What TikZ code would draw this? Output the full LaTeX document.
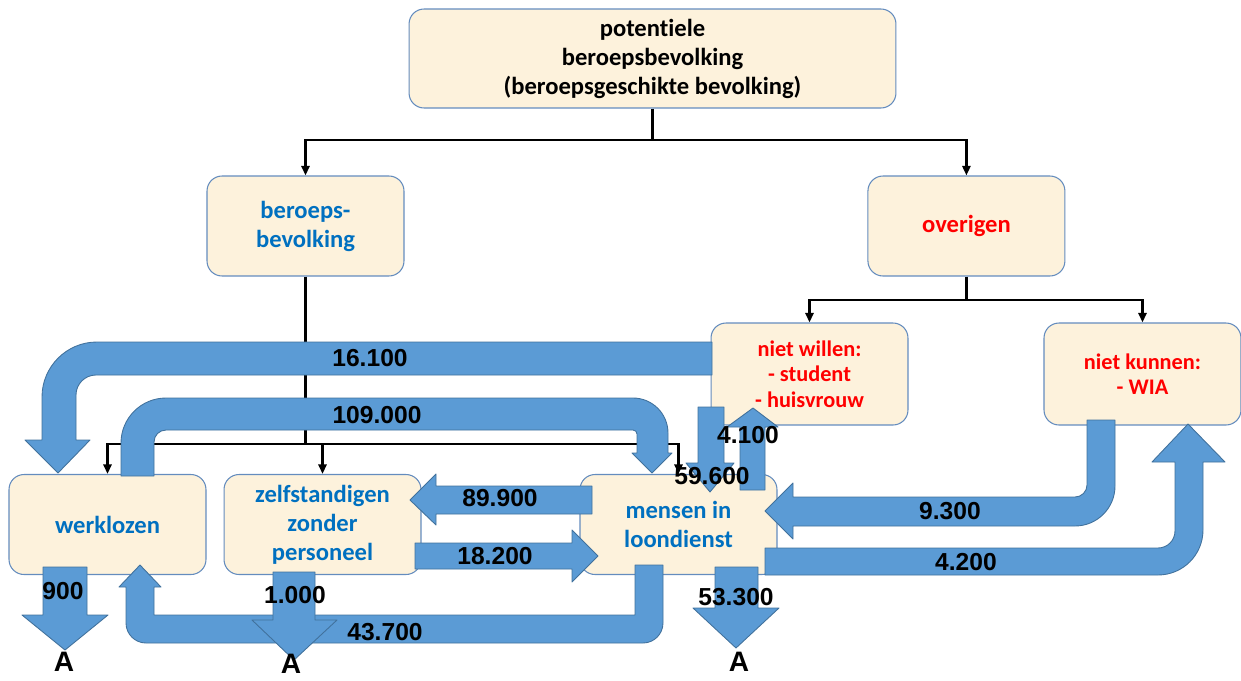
\documentclass[tikz,border=0pt]{standalone}
\usepackage{fontspec}
\setmainfont{Carlito}[Ligatures=NoCommon]
\newfontfamily\numfont{Liberation Sans}
\usetikzlibrary{positioning,arrows.meta}

\definecolor{boxfill}{RGB}{253,242,220}
\definecolor{boxline}{RGB}{100,140,190}
\definecolor{flowfill}{RGB}{91,155,213}
\definecolor{flowline}{RGB}{65,113,156}
\definecolor{txtblue}{RGB}{0,112,192}
\definecolor{txtred}{RGB}{255,0,0}

\begin{document}
\begin{tikzpicture}[x=0.02cm, y=-0.02cm,
    box/.style = {draw=boxline, fill=boxfill, rounded corners=0.3cm, line width=0.6pt,
                  align=center, inner sep=0pt, minimum width=3.94cm, minimum height=2cm,
                  font=\bfseries\fontsize{14}{16.5}\selectfont},
    small/.style = {font=\bfseries\fontsize{12.7}{14.5}\selectfont},
    conn/.style = {line width=1.4pt, -{Triangle[length=1.9mm,width=1.6mm]}},
    flow/.style = {draw=flowline, fill=flowfill, line width=0.5pt, line join=round},
    num/.style = {inner sep=0pt, font=\numfont\bfseries\fontsize{14}{16}\selectfont},
    uit/.style = {inner sep=0pt, font=\numfont\bfseries\fontsize{16}{18}\selectfont}]
  \useasboundingbox (0,0) rectangle (1241,680);

  % boxes
  \node[box, minimum width=9.74cm, minimum height=1.98cm] (top) at (652.5,58.5)
    {potentiele\\beroepsbevolking\\(beroepsgeschikte bevolking)};
  \node[box, text=txtblue] (berb) at (305.5,226) {beroeps-\\bevolking};
  \node[box, text=txtred, right=9.26cm of berb] (over) {overigen};
  \node[box, small, text=txtred, minimum height=2.04cm] (nwil) at (809.5,374)
    {niet willen:\\- student\\- huisvrouw};
  \node[box, small, text=txtred, minimum height=2.04cm, right=2.7cm of nwil] (nkun)
    {niet kunnen:\\- WIA};
  \node[box, text=txtblue] (werk) at (107.5,524.5) {werklozen};
  \node[box, text=txtblue, right=0.34cm of werk] (zzp) {zelfstandigen\\zonder\\personeel};
  \node[box, text=txtblue] (mens) at (678.5,524.5) {mensen in\\loondienst};

  % tree lines
  \coordinate (j1) at (top.south |- 0,140);
  \coordinate (j2) at (berb.south |- 0,444);
  \coordinate (j3) at (over.south |- 0,300);
  \draw[conn] (top.south) -- (j1) -| (berb.north);
  \draw[conn] (j1) -| (over.north);
  \draw[conn] (berb.south) -- (j2) -| (werk.north);
  \draw[conn] (j2) -| (zzp.north);
  \draw[conn] (j2) -| (mens.north);
  \draw[conn] (over.south) -- (j3) -| (nwil.north);
  \draw[conn] (j3) -| (nkun.north);

  % flows
  \draw[flow] (712,342) -- (97,342) arc[start angle=270, end angle=180, radius=55]
    -- (42,440) -- (25,440) -- (58,473) -- (90,440) -- (76,440) -- (76,395)
    arc[start angle=180, end angle=270, radius=20] -- (712,375) -- cycle;
  \draw[flow] (121,476) -- (121,443) arc[start angle=180, end angle=270, radius=45]
    -- (633,398) arc[start angle=270, end angle=360, radius=35]
    -- (668,453) -- (672,453) -- (652,473) -- (632,453) -- (637,453) -- (637,434)
    arc[start angle=0, end angle=-90, radius=4] -- (166,430)
    arc[start angle=270, end angle=180, radius=12] -- (154,476) -- cycle;
  \draw[flow] (592,486) -- (436,486) -- (436,474) -- (410,500) -- (436,525)
    -- (436,514) -- (592,514) -- cycle;
  \draw[flow] (415,543) -- (572,543) -- (572,530) -- (598,556) -- (572,582)
    -- (572,569) -- (415,569) -- cycle;
  \draw[flow] (635,565) -- (663,565) -- (663,623) arc[start angle=0, end angle=90, radius=20]
    -- (146,643) arc[start angle=90, end angle=180, radius=20]
    -- (126,587) -- (119,587) -- (140,565) -- (161,587) -- (154,587) -- (154,615)
    -- (635,615) -- cycle;
  \draw[flow] (43,567) -- (87,567) -- (87,615) -- (108,615) -- (65,650) -- (22,615)
    -- (43,615) -- cycle;
  \draw[flow] (273,572) -- (315,572) -- (315,620) -- (337,620) -- (294,660) -- (252,620)
    -- (273,620) -- cycle;
  \draw[flow] (715,567) -- (758,567) -- (758,608) -- (779,608) -- (736,648) -- (693,608)
    -- (715,608) -- cycle;
  \draw[flow] (698,407) -- (724,407) -- (724,463) -- (734,463) -- (710,492) -- (686,463)
    -- (698,463) -- cycle;
  \draw[flow] (740,490) -- (740,427) -- (727,427) -- (753,408) -- (778,427) -- (765,427)
    -- (765,490) -- cycle;
  \draw[flow] (1087,420) -- (1087,485) arc[start angle=0, end angle=90, radius=12]
    -- (793,497) -- (793,483) -- (765,511) -- (793,539) -- (793,526) -- (1075,526)
    arc[start angle=90, end angle=0, radius=40] -- (1115,420) -- cycle;
  \draw[flow] (765,548) -- (1158,548) arc[start angle=90, end angle=0, radius=17]
    -- (1175,462) -- (1152,462) -- (1188,424) -- (1225,462) -- (1203,462) -- (1203,530)
    arc[start angle=0, end angle=90, radius=45] -- (765,575) -- cycle;

  % numbers
  \node[num] (f16100) at (370,358) {16.100};
  \node[num] (f109000) at (377,415) {109.000};
  \node[num] (f89900) at (500,498) {89.900};
  \node[num] (f18200) at (495,556) {18.200};
  \node[num] (f43700) at (385,632) {43.700};
  \node[num] (f900) at (63,591) {900};
  \node[num] (f1000) at (295,595) {1.000};
  \node[num] (f53300) at (736,597) {53.300};
  \node[num] (f59600) at (712,476) {59.600};
  \node[num] (f4100) at (748,435) {4.100};
  \node[num] (f9300) at (950,511) {9.300};
  \node[num] (f4200) at (966,562) {4.200};
  \node[uit] (a1) at (64,662) {A};
  \node[uit] (a2) at (291,664) {A};
  \node[uit] (a3) at (739,662) {A};
\end{tikzpicture}
\end{document}
